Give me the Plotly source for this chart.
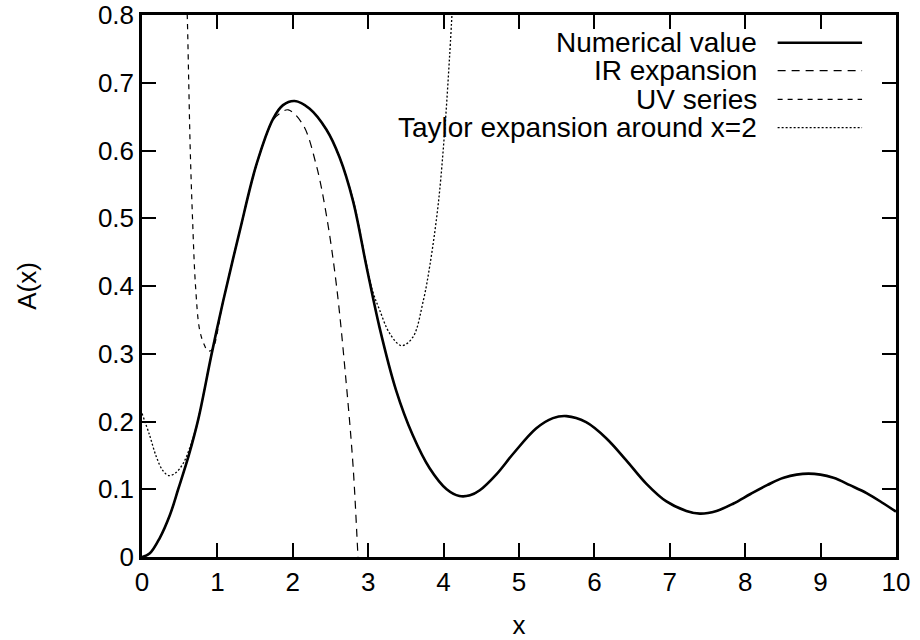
import plotly.graph_objects as go

# ---- data ----
num_x = [0, 0.10, 0.235, 0.37, 0.48, 0.62, 0.75, 0.92, 1.075, 1.296, 1.517, 1.74, 1.87, 2.025,
         2.22, 2.445, 2.62, 2.80, 2.975, 3.15, 3.37, 3.59, 3.815, 4.04, 4.21, 4.35, 4.48, 4.70, 4.92,
         5.23, 5.45, 5.63, 5.89, 6.16, 6.42, 6.69, 6.955, 7.22, 7.40, 7.62, 7.845, 8.07, 8.29,
         8.51, 8.84, 9.17, 9.39, 9.615, 9.835, 10.0]
num_y = [0, 0.005, 0.028, 0.062, 0.100, 0.150, 0.205, 0.298, 0.377, 0.481, 0.579, 0.647, 0.667, 0.673,
         0.662, 0.631, 0.590, 0.525, 0.430, 0.339, 0.246, 0.180, 0.131, 0.100, 0.090, 0.091, 0.0985, 0.122, 0.152,
         0.190, 0.205, 0.208, 0.199, 0.175, 0.143, 0.108, 0.082, 0.068, 0.064, 0.068, 0.079, 0.093, 0.106,
         0.117, 0.123, 0.117, 0.106, 0.094, 0.079, 0.067]

ir_x = [0, 0.10, 0.235, 0.37, 0.48, 0.62, 0.75, 0.92, 1.075, 1.296, 1.517, 1.74, 1.83, 1.94,
        2.135, 2.31, 2.445, 2.58, 2.71, 2.80, 2.865, 2.90]
ir_y = [0, 0.005, 0.028, 0.062, 0.100, 0.150, 0.205, 0.298, 0.377, 0.481, 0.578, 0.645, 0.655, 0.660,
        0.638, 0.579, 0.505, 0.400, 0.255, 0.133, 0.0, -0.07]

uv_x = [0.58, 0.60, 0.62, 0.64, 0.67, 0.71, 0.765, 0.83, 0.875, 0.93, 1.075, 1.296, 1.517, 1.74,
        1.87, 2.025, 2.22, 2.445, 2.62, 2.80, 2.975, 3.15, 3.37, 3.59, 3.815, 4.04, 4.21, 4.35, 4.48,
        4.70, 4.92, 5.23, 5.45, 5.63, 5.89, 6.16, 6.42, 6.69, 6.955, 7.22, 7.40, 7.62, 7.845,
        8.07, 8.29, 8.51, 8.84, 9.17, 9.39, 9.615, 9.835, 10.0]
uv_y = [0.86, 0.80, 0.70, 0.60, 0.50, 0.40, 0.335, 0.312, 0.304, 0.306, 0.377, 0.481, 0.579, 0.647,
        0.667, 0.673, 0.662, 0.631, 0.590, 0.525, 0.430, 0.339, 0.246, 0.180, 0.131, 0.100, 0.090, 0.091, 0.0985,
        0.122, 0.152, 0.190, 0.205, 0.208, 0.199, 0.175, 0.143, 0.108, 0.082, 0.068, 0.064, 0.068, 0.079,
        0.093, 0.106, 0.117, 0.123, 0.117, 0.106, 0.094, 0.079, 0.067]

tay_x = [0, 0.10, 0.19, 0.28, 0.36, 0.455, 0.545, 0.63, 0.72, 0.80, 0.92, 1.075, 1.296, 1.517,
         1.74, 1.87, 2.025, 2.22, 2.445, 2.62, 2.80, 2.975, 3.06, 3.15, 3.285, 3.44, 3.59,
         3.73, 3.82, 3.93, 4.015, 4.08, 4.13]
tay_y = [0.212, 0.180, 0.148, 0.127, 0.120, 0.125, 0.138, 0.160, 0.192, 0.232, 0.298, 0.377, 0.481, 0.579,
         0.647, 0.667, 0.673, 0.662, 0.631, 0.590, 0.527, 0.433, 0.392, 0.365, 0.330, 0.312, 0.324,
         0.378, 0.432, 0.522, 0.630, 0.740, 0.840]

names = ["Numerical value", "IR expansion", "UV series", "Taylor expansion around x=2"]
x_ticks = [0, 1, 2, 3, 4, 5, 6, 7, 8, 9, 10]
y_ticks = [0, 0.1, 0.2, 0.3, 0.4, 0.5, 0.6, 0.7, 0.8]
y_tick_text = ["0", "0.1", "0.2", "0.3", "0.4", "0.5", "0.6", "0.7", "0.8"]

# ---- styles ----
styles = [
    dict(color="black", width=2.6, dash="solid"),
    dict(color="black", width=1.2, dash="8px,6px"),
    dict(color="black", width=1.2, dash="5px,5px"),
    dict(color="black", width=1.3, dash="2px,2px"),
]
series = [(num_x, num_y), (ir_x, ir_y), (uv_x, uv_y), (tay_x, tay_y)]
draw_order = [3, 2, 1, 0]

FONT = "Liberation Sans, Arial, sans-serif"

fig = go.Figure()
for i in draw_order:
    xs, ys = series[i]
    fig.add_trace(go.Scatter(x=xs, y=ys, mode="lines", name=names[i],
                             line=dict(shape="spline", smoothing=1.0, **styles[i]),
                             showlegend=False))

# gnuplot-style key: right-justified text, sample line to its right
row_y = [0.9489, 0.8972, 0.8445, 0.7921]
for i, name in enumerate(names):
    fig.add_annotation(x=0.818, y=row_y[i], xref="paper", yref="paper", text=name,
                       showarrow=False, xanchor="right", yanchor="middle",
                       font=dict(family=FONT, size=28, color="black"))
    fig.add_shape(type="line", xref="paper", yref="paper", x0=0.843, x1=0.955,
                  y0=row_y[i], y1=row_y[i], line=styles[i])

axis_common = dict(showline=True, linecolor="black", linewidth=2.5, mirror="allticks",
                   ticks="inside", ticklen=14, tickwidth=2, tickcolor="black",
                   showgrid=False, zeroline=False, automargin=False,
                   ticklabeloverflow="allow",
                   tickfont=dict(family=FONT, size=26, color="black"))

fig.update_xaxes(range=[0, 10], tickvals=x_ticks, ticktext=[str(t) for t in x_ticks],
                 title=dict(text="x", font=dict(family=FONT, size=26, color="black"), standoff=23),
                 **axis_common)
fig.update_yaxes(range=[0, 0.8], tickvals=y_ticks, ticktext=y_tick_text,
                 title=dict(text="A(x)", font=dict(family=FONT, size=26, color="black"), standoff=54),
                 **axis_common)

fig.update_layout(width=920, height=640, plot_bgcolor="white", paper_bgcolor="white",
                  margin=dict(l=142, r=24, t=15, b=83, autoexpand=False), showlegend=False)

# remove the page's default body margin so the figure fills the window exactly
fig.write_html("out.html", config={"displayModeBar": False},
               post_script="document.body.style.margin='0';document.body.style.overflow='hidden';")
